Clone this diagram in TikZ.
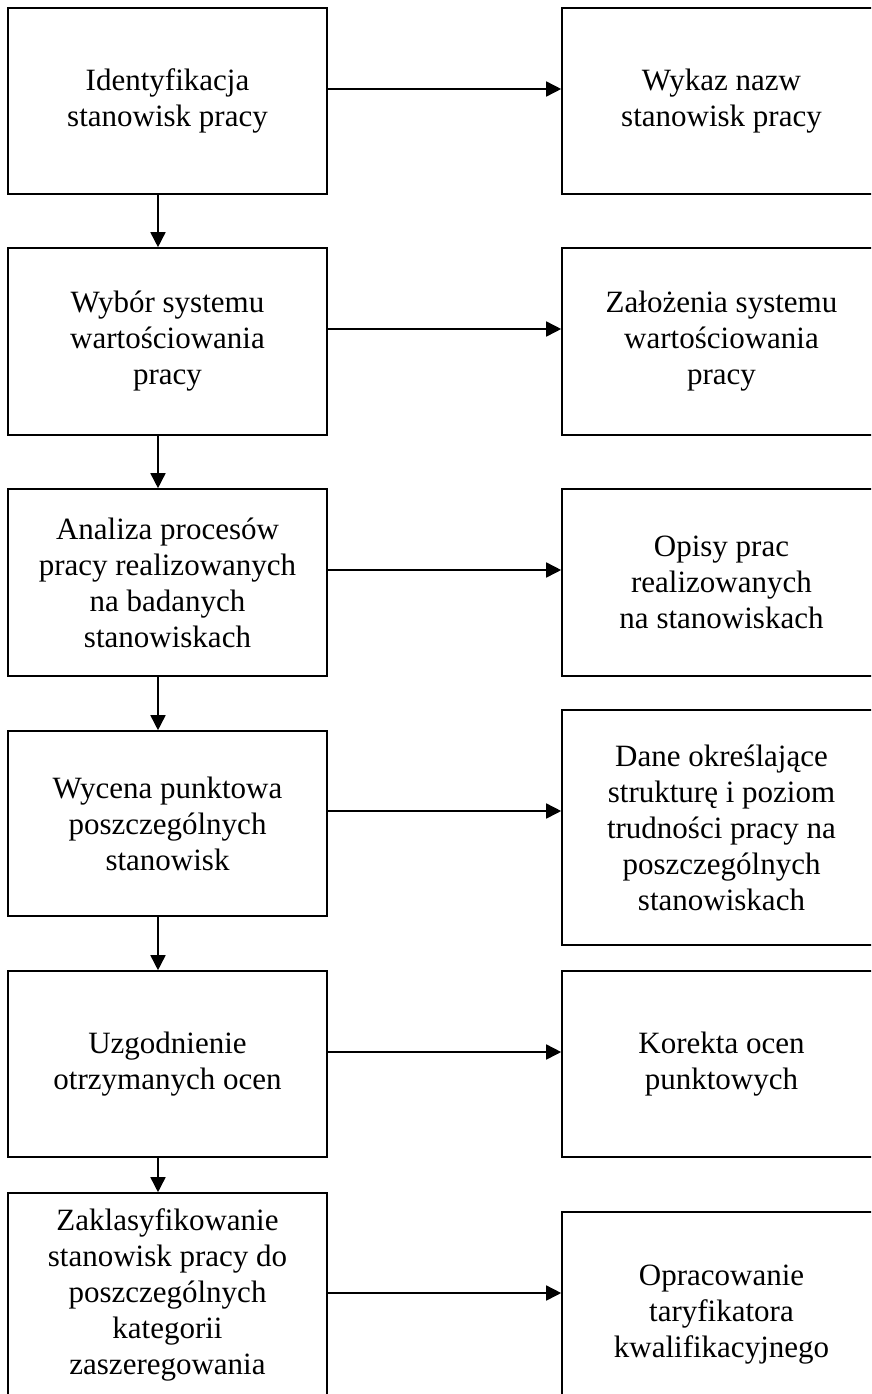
\documentclass[tikz,border=0pt]{standalone}
\usepackage{fontspec}
\setmainfont{Liberation Serif}
\usetikzlibrary{arrows.meta}
\begin{document}
\begin{tikzpicture}[x=1pt,y=-1pt,
 box/.style={draw, line width=1.6pt, inner sep=0pt, minimum width=319pt, align=center, font=\fontsize{31}{36}\selectfont},
 arr/.style={line width=1.6pt, -{Triangle[length=15pt,width=15pt]}}]
\useasboundingbox (0,0) rectangle (871,1394);
\clip (0,0) rectangle (871,1394);
% left column
\node[box, minimum height=186pt] (L1) at (167.5,101) {Identyfikacja\\stanowisk pracy};
\node[box, minimum height=187pt] (L2) at (167.5,341.5) {Wybór systemu\\wartościowania\\pracy};
\node[box, minimum height=187pt] (L3) at (167.5,582.5) {Analiza procesów\\pracy realizowanych\\na badanych\\stanowiskach};
\node[box, minimum height=185pt] (L4) at (167.5,823.5) {Wycena punktowa\\poszczególnych\\stanowisk};
\node[box, minimum height=186pt] (L5) at (167.5,1064) {Uzgodnienie\\otrzymanych ocen};
\node[box, minimum height=204pt] (L6) at (167.5,1295) {Zaklasyfikowanie\\stanowisk pracy do\\poszczególnych\\kategorii\\zaszeregowania};
% right column
\node[box, minimum height=186pt] (R1) at (721.5,101) {Wykaz nazw\\stanowisk pracy};
\node[box, minimum height=187pt] (R2) at (721.5,341.5) {Założenia systemu\\wartościowania\\pracy};
\node[box, minimum height=187pt] (R3) at (721.5,582.5) {Opisy prac\\realizowanych\\na stanowiskach};
\node[box, minimum height=235pt] (R4) at (721.5,827.5) {Dane określające\\strukturę i poziom\\trudności pracy na\\poszczególnych\\stanowiskach};
\node[box, minimum height=186pt] (R5) at (721.5,1064) {Korekta ocen\\punktowych};
\node[box, minimum height=206pt] (R6) at (721.5,1315) {Opracowanie\\taryfikatora\\kwalifikacyjnego};
% vertical arrows
\foreach \a/\b in {L1/L2,L2/L3,L3/L4,L4/L5,L5/L6}{
  \draw[arr] ([xshift=-9.5pt]\a.south) -- ([xshift=-9.5pt]\b.north);
}
% horizontal arrows
\foreach \i/\s in {1/12,2/12.5,3/12.5,4/12.5,5/12,6/2}{
  \coordinate (h\i) at ([yshift=\s pt]L\i.east);
  \draw[arr] (h\i) -- (h\i -| R\i.west);
}
\end{tikzpicture}
\end{document}
